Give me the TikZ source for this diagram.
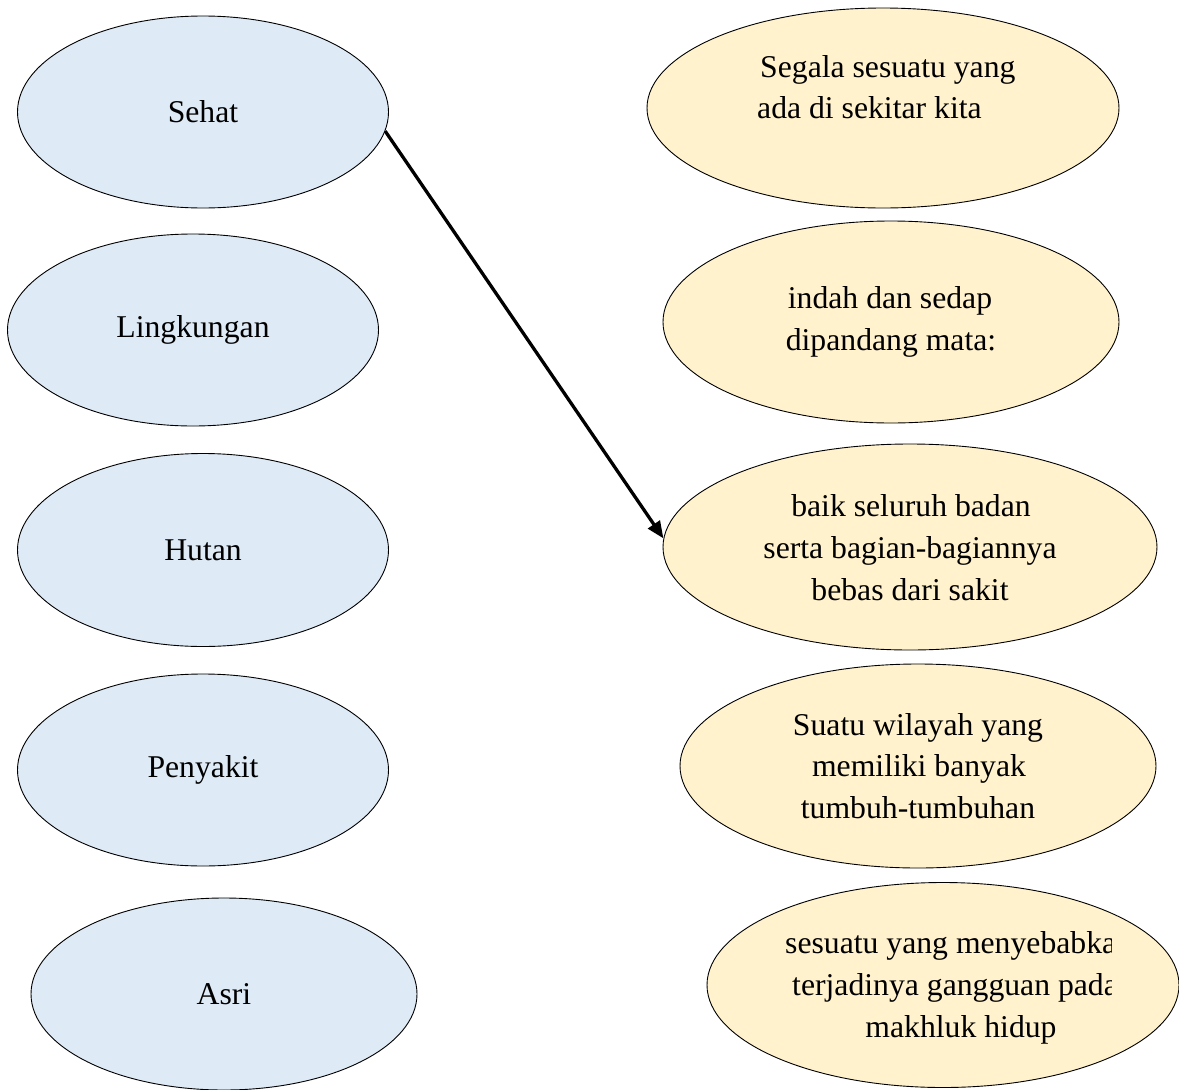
\documentclass[tikz,border=0pt]{standalone}
\usepackage{fontspec}
\setmainfont{Liberation Serif}
\usetikzlibrary{shapes.geometric,arrows.meta}
\definecolor{lblue}{HTML}{DEEAF6}
\definecolor{lyel}{HTML}{FFF2CC}
\begin{document}
\begin{tikzpicture}[x=1pt,y=-1pt,
  ell/.style={ellipse,draw=black,line width=0.9pt,inner sep=0pt},
  leftell/.style={ell,fill=lblue,font=\fontsize{31.7}{41.5}\selectfont},
  rightell/.style={ell,fill=lyel},
  lbl/.style={font=\fontsize{31.7}{41.5}\selectfont,inner sep=0pt},
  conn/.style={line width=3.3pt,-{Triangle[length=17pt,width=14pt]}}]
\useasboundingbox (0,0) rectangle (1179,1090);
% left column
\node[leftell,minimum width=371pt,minimum height=192pt] (sehat) at (203,112) {Sehat};
\node[leftell,minimum width=371pt,minimum height=192pt] (lingk) at (193,330) {Lingkungan};
\node[leftell,minimum width=371pt,minimum height=193pt] (hutan) at (203,550) {Hutan};
\node[leftell,minimum width=371pt,minimum height=192pt] (penyakit) at (203,770) {Penyakit};
\node[leftell,minimum width=386pt,minimum height=192pt] (asri) at (224,994) {Asri};
% right column
\node[rightell,minimum width=472pt,minimum height=200pt] (segala) at (883,108) {};
\node[rightell,minimum width=456pt,minimum height=202pt] (indah) at (891,322) {};
\node[rightell,minimum width=494pt,minimum height=206pt] (baik) at (910,547) {};
\node[rightell,minimum width=476pt,minimum height=204pt] (suatu) at (918,766) {};
\node[rightell,minimum width=472pt,minimum height=205pt] (sesuatu) at (943,985) {};
% texts
\node[lbl,anchor=base west] (t1a) at (760,77) {Segala sesuatu yang};
\node[lbl,anchor=base west] (t1b) at (757,118) {ada di sekitar kita};
\node[lbl,anchor=base] (t2a) at (890,308) {indah dan sedap};
\node[lbl,anchor=base] (t2b) at (891,350) {dipandang mata:};
\node[lbl,anchor=base] (t3a) at (911,516) {baik seluruh badan};
\node[lbl,anchor=base] (t3b) at (910,558) {serta bagian-bagiannya};
\node[lbl,anchor=base] (t3c) at (910,600) {bebas dari sakit};
\node[lbl,anchor=base] (t4a) at (918,735) {Suatu wilayah yang};
\node[lbl,anchor=base] (t4b) at (919,776) {memiliki banyak};
\node[lbl,anchor=base] (t4c) at (918,818) {tumbuh-tumbuhan};
\begin{scope}
\clip (0,0) rectangle (1111,1090);
\node[lbl,anchor=base west] (t5a) at (785,953) {sesuatu yang menyebabkan};
\node[lbl,anchor=base west] (t5b) at (792,995) {terjadinya gangguan pada};
\end{scope}
\node[lbl,anchor=base] (t5c) at (961,1037) {makhluk hidup};
% connector
\draw[conn] (sehat.-6) -- (baik.178);
\end{tikzpicture}
\end{document}
